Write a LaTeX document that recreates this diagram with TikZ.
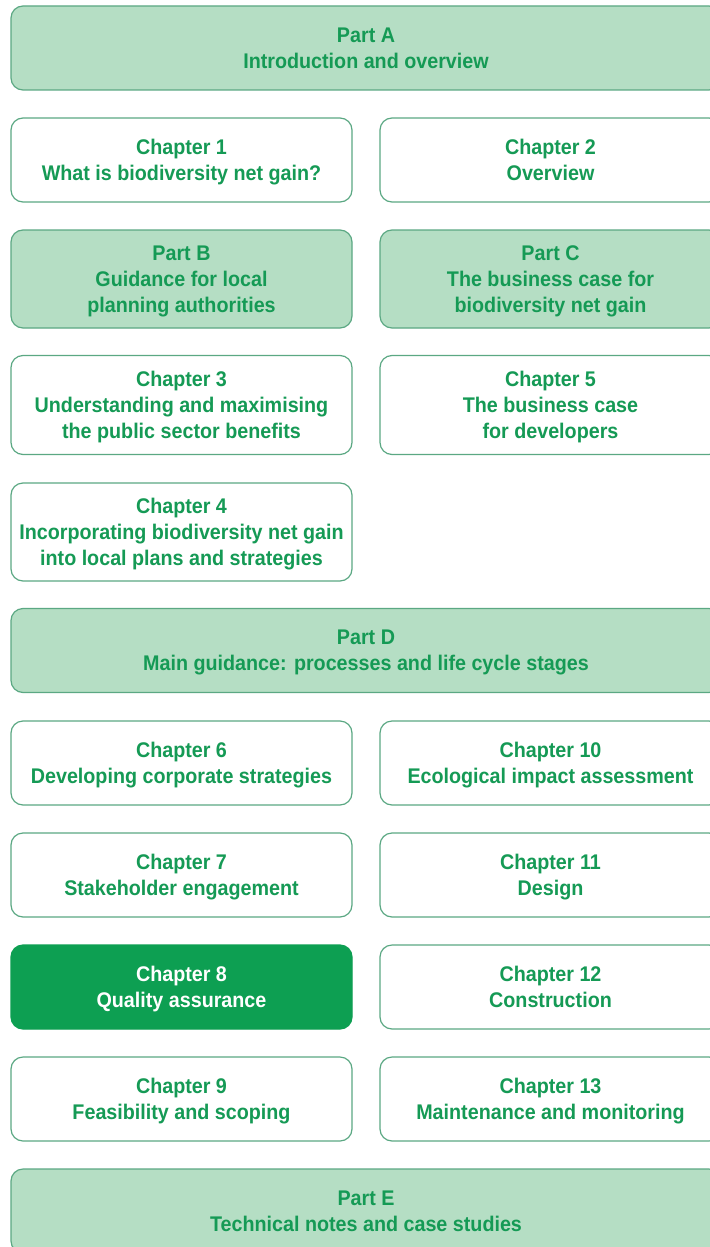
\documentclass[tikz,border=0pt]{standalone}
\usepackage{fontspec}
\setmainfont{Liberation Sans}[FakeStretch=0.93]
\definecolor{txtgreen}{HTML}{159A55}
\definecolor{lightfill}{HTML}{B5DEC4}
\definecolor{boxline}{HTML}{5BA883}
\definecolor{darkfill}{HTML}{0D9F52}
\newcommand{\tp}{\rule{0pt}{11pt}}
\tikzset{
	box/.style={shape=rectangle, rounded corners=6pt, draw=boxline, line width=0.6pt,
		align=center, font=\fontsize{10.6}{13}\selectfont\bfseries, text=txtgreen,
		minimum width=170.5pt, minimum height=42pt, inner sep=0pt},
	partbox/.style={box, fill=lightfill},
	widebox/.style={partbox, minimum width=355pt},
	chapbox/.style={box, fill=white},
	hlbox/.style={box, fill=darkfill, draw=darkfill, text=white},
}
\begin{document}
\begin{tikzpicture}[x=0.5pt, y=-0.5pt]
	\useasboundingbox[fill=white] (0,0) rectangle (709,1247);

	\node[widebox]                            (A)   at (366,48)    {\tp Part A\\Introduction and overview\strut};

	\node[chapbox]                            (c1)  at (181.5,160) {\tp Chapter 1\\What is biodiversity net gain?\strut};
	\node[chapbox]                            (c2)  at (550.5,160) {\tp Chapter 2\\Overview\strut};

	\node[partbox, minimum height=49pt]       (B)   at (181.5,279) {\tp Part B\\Guidance for local\\planning authorities\strut};
	\node[partbox, minimum height=49pt]       (C)   at (550.5,279) {\tp Part C\\The business case for\\biodiversity net gain\strut};

	\node[chapbox, minimum height=49.5pt]     (c3)  at (181.5,405) {\tp Chapter 3\\Understanding and maximising\\the public sector benefits\strut};
	\node[chapbox, minimum height=49.5pt]     (c5)  at (550.5,405) {\tp Chapter 5\\The business case\\for developers\strut};

	\node[chapbox, minimum height=49pt]       (c4)  at (181.5,532) {\tp Chapter 4\\Incorporating biodiversity net gain\\into local plans and strategies\strut};

	\node[widebox]                            (D)   at (366,650.5) {\tp Part D\\Main guidance: processes and life cycle stages\strut};

	\node[chapbox]                            (c6)  at (181.5,763) {\tp Chapter 6\\Developing corporate strategies\strut};
	\node[chapbox]                            (c10) at (550.5,763) {\tp Chapter 10\\Ecological impact assessment\strut};

	\node[chapbox]                            (c7)  at (181.5,875) {\tp Chapter 7\\Stakeholder engagement\strut};
	\node[chapbox]                            (c11) at (550.5,875) {\tp Chapter 11\\Design\strut};

	\node[hlbox]                              (c8)  at (181.5,987) {\tp Chapter 8\\Quality assurance\strut};
	\node[chapbox]                            (c12) at (550.5,987) {\tp Chapter 12\\Construction\strut};

	\node[chapbox]                            (c9)  at (181.5,1099) {\tp Chapter 9\\Feasibility and scoping\strut};
	\node[chapbox]                            (c13) at (550.5,1099) {\tp Chapter 13\\Maintenance and monitoring\strut};

	\node[widebox]                            (E)   at (366,1211)  {\tp Part E\\Technical notes and case studies\strut};
\end{tikzpicture}
\end{document}
